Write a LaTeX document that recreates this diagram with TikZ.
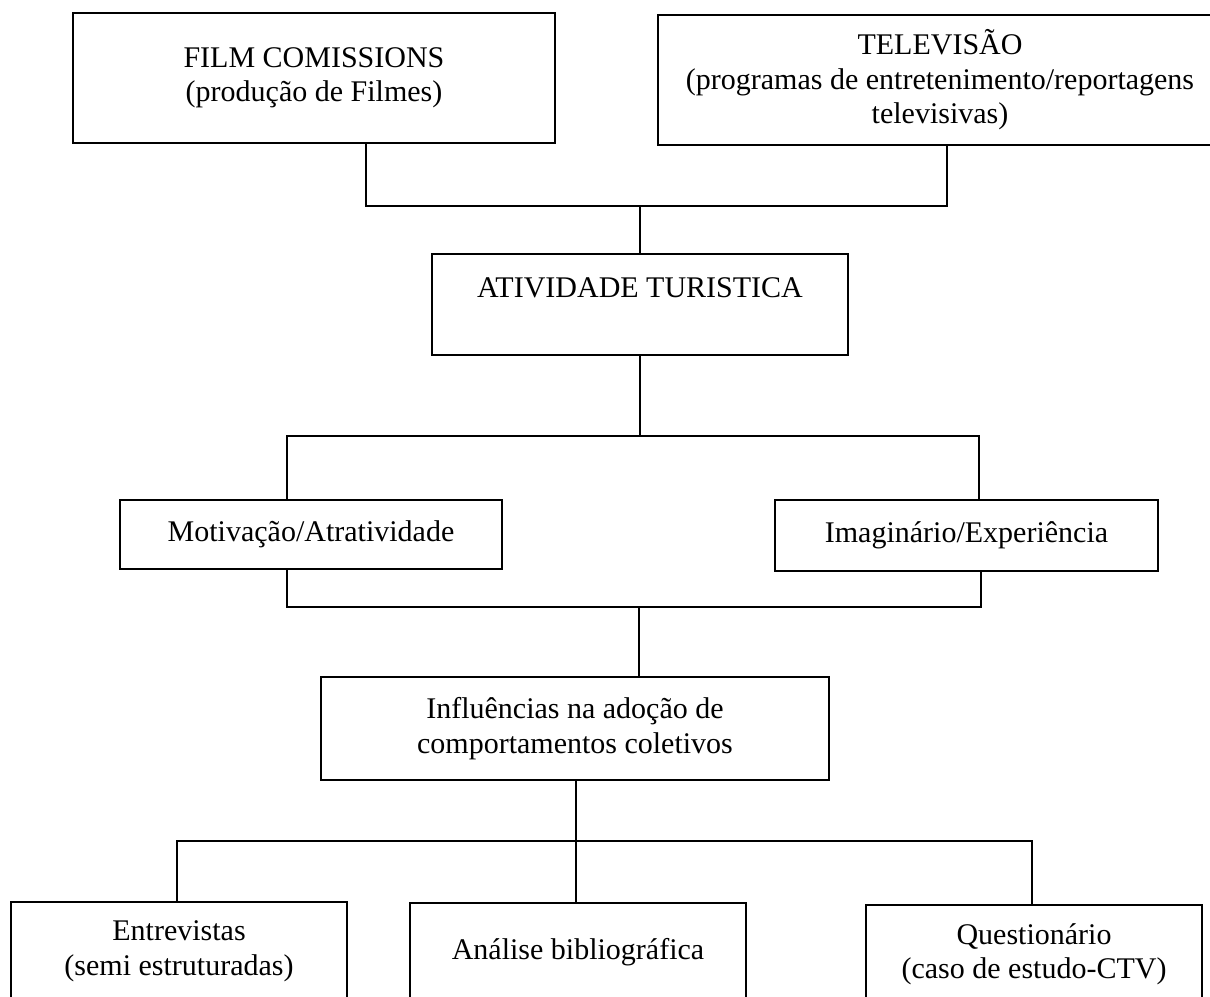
\documentclass[tikz,border=0pt]{standalone}
\usepackage{fontspec}
\setmainfont{Liberation Serif}
\usetikzlibrary{calc}
\tikzset{caixa/.style={draw,line width=0.8pt,align=center,inner sep=0pt,
  font=\fontsize{12}{13.8}\selectfont},
  liga/.style={line width=0.7pt}}

\begin{document}
\begin{tikzpicture}[x=0.4pt,y=-0.4pt]
\clip (0,0) rectangle (1210,997);
% caixas
\node[caixa,minimum width=192.8pt,minimum height=52pt] (film) at (314,78) {FILM COMISSIONS\\(produção de Filmes)};
\node[caixa,minimum width=225.6pt,minimum height=52pt] (tv) at (940,80) {TELEVISÃO\\(programas de entretenimento/reportagens\\televisivas)};
\node[caixa,minimum width=166.4pt,minimum height=40.4pt] (ativ) at (640,304.5) {ATIVIDADE TURISTICA\\ \mbox{}};
\node[caixa,minimum width=152.8pt,minimum height=27.6pt] (moti) at (311,534.5) {Motivação/Atratividade};
\node[caixa,minimum width=153.2pt,minimum height=28.4pt] (imag) at (966.5,535.5) {Imaginário/Experiência};
\node[caixa,minimum width=203.2pt,minimum height=41.2pt] (infl) at (575,728.5) {Influências na adoção de\\comportamentos coletivos};
\node[caixa,minimum width=134.4pt,minimum height=39.2pt] (entr) at (179,951) {Entrevistas\\(semi estruturadas)};
\node[caixa,minimum width=134.4pt,minimum height=39.2pt] (anal) at (578,952) {Análise bibliográfica};
\node[caixa,minimum width=134.4pt,minimum height=39.6pt] (ques) at (1034,954.5) {Questionário\\(caso de estudo-CTV)};

% ligacoes
\coordinate (b1l) at (366,206);
\coordinate (b1r) at (947,206);
\draw[liga] (film.south -| b1l) -- (b1l) -- (b1r) -- (tv.south -| b1r);
\draw[liga] (b1l -| ativ.north) -- (ativ.north);

\coordinate (b2l) at (287,436);
\coordinate (b2r) at (979,436);
\draw[liga] (ativ.south) -- (b2l -| ativ.south);
\draw[liga] (moti.north -| b2l) -- (b2l) -- (b2r) -- (imag.north -| b2r);

\coordinate (b3l) at (287,607);
\coordinate (b3r) at (981,607);
\coordinate (b3m) at (639,607);
\draw[liga] (moti.south -| b3l) -- (b3l) -- (b3r) -- (imag.south -| b3r);
\draw[liga] (b3m) -- (infl.north -| b3m);

\coordinate (b4l) at (177,841);
\coordinate (b4r) at (1032,841);
\coordinate (b4m) at (576,841);
\draw[liga] (infl.south -| b4m) -- (anal.north -| b4m);
\draw[liga] (entr.north -| b4l) -- (b4l) -- (b4r) -- (ques.north -| b4r);
\end{tikzpicture}
\end{document}
